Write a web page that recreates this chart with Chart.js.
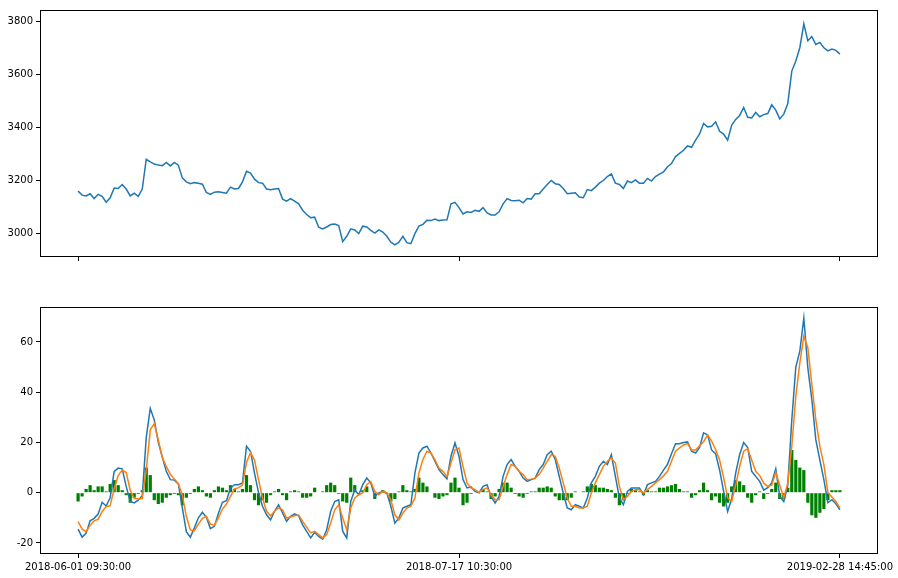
<!DOCTYPE html>
<html>
<head>
<meta charset="utf-8">
<script src="https://cdn.jsdelivr.net/npm/chart.js@4.4.1/dist/chart.umd.min.js"></script>
<style>
  html, body { margin: 0; padding: 0; background: #fff; }
  #wrap { position: relative; width: 898px; height: 578px; overflow: hidden; }
  .box { position: absolute; left: 0; width: 898px; }
</style>
</head>
<body>
<div id="wrap">
  <div class="box" style="top:0;height:280px"><canvas id="c1" width="898" height="280"></canvas></div>
  <div class="box" style="top:280px;height:298px"><canvas id="c2" width="898" height="298"></canvas></div>
</div>
<script>
// ---- data ----
const xTickIndex = [0, 95, 190];
const xTickLabels = ['2018-06-01 09:30:00', '2018-07-17 10:30:00', '2019-02-28 14:45:00'];
const priceTicks = [3000, 3200, 3400, 3600, 3800];
const macdTicks = [-20, 0, 20, 40, 60];

const price = [
  3160,3145,3142,3150,3132,3148,3140,3118,3135,3172,3170,3185,3168,3142,3152,3140,3168,3280,3270,3262,
  3258,3256,3268,3255,3268,3258,3210,3195,3188,3192,3190,3186,3155,3148,3156,3158,3155,3152,3175,3168,
  3170,
  3195,3235,3228,3205,3192,3190,3168,3165,3168,3170,3130,3122,3132,3122,3112,3088,3072,3060,3062,3024,
  3018,3025,3034,3036,3030,2970,2990,3018,3014,3000,3028,3025,3012,3002,3014,3006,2990,2968,2958,2968,
  2990,2966,2962,3000,3028,3035,3050,3049,3055,3049,3051,3052,
  3112,3118,3098,3074,3082,3080,3088,3084,3098,3078,3070,3070,3082,3112,3132,3125,3124,3126,3116,3132,
  3130,3150,3150,3168,3185,3200,3188,3185,3170,3150,3152,3154,3138,3135,3166,3162,3175,3190,3200,3215,
  3225,3190,3185,3170,3198,3192,3202,3190,3190,3208,3198,3215,3224,
  3232,3252,3264,3290,3302,3314,3330,3325,3352,3375,3415,3402,3404,3421,3385,3375,3352,3408,3430,3445,
  3475,3438,3436,3456,3440,3448,3452,3485,3465,3432,3450,3490,3612,3650,3700,3790,3726,3742,3712,3720,
  3700,3688,3695,3690,3676
];

const dif = [
  -14.5,-17.7,-16.2,-11.2,-10.2,-8.5,-3.8,-5.3,-2,8.5,9.8,9.5,2.5,-3.5,-4.1,-3,-1.2,22,33.5,29,
  20,14.2,8.5,5.2,5,3.5,-6,-15.5,-17.7,-14,-10,-7.8,-9.8,-14.3,-13.4,-8.2,-3.8,-3.2,1.8,3.2,
  3.2,
  3.9,18.5,16.5,7.8,0,-5.4,-8.8,-10.8,-7.4,-4.8,-8.1,-11.4,-9.4,-8.4,-9.2,-12.8,-15.4,-18,-15.8,-17.4,
  -18.5,-14.8,-7.4,-3.5,-2.8,-15.4,-18,-3.5,1.2,-0.8,3.2,5.8,3.9,-1.5,-0.1,0.5,-0.1,-5.4,-12.1,-10.1,
  -6.1,-5.4,-4.8,7.8,15.8,17.8,18.5,15.8,12.5,9.2,7.2,5.5,
  14.5,19.8,14.5,5.2,1.9,2.3,0.5,-0.1,2.5,3.2,-1.5,-4.1,-1.5,6.5,11.2,13.2,10.5,8.5,5.8,4.5,
  5.2,5.8,9.2,11.2,15.1,16.5,13.2,6.5,-0.1,-6.1,-6.8,-4.8,-5.4,-6.1,-2.1,3.9,6.5,10.5,12.5,11.2,
  15.1,6.5,-2.1,-4.8,0.5,1.9,1.9,1.9,-0.8,3.2,3.9,4.5,6.5,
  9,11.3,15.5,19.5,19.5,20,20.2,16.5,15.8,18,23.8,23,17,15.5,9,0.5,-7.5,-2.5,7.8,15.2,
  20,18,8.5,6.5,4.5,1,2,4,9.5,-1.5,-3.5,3,29,50,56.3,69.5,49.7,37,21,13,
  5.2,-4,-2.8,-4.4,-6.8
];

const dea = [
  -11.5,-14.5,-15.5,-13,-11.2,-10.6,-7.5,-5.6,-5.2,1.5,6.8,9,8,1,-2.2,-2.5,-2.3,9,25,27.5,
  21,14,10.5,7.3,5.4,3.6,-1,-9.5,-14.8,-15.2,-12.5,-10.2,-9.5,-12.5,-13,-10,-6.5,-4.5,-1.5,1.5,
  2,
  3,12,16,13,5.2,-2.1,-7.4,-9.2,-7.4,-6.1,-6.8,-10.1,-9.7,-9.2,-8.9,-11.4,-13.7,-16,-15.4,-16.7,
  -18,-16.7,-12.1,-6.8,-4.8,-10.1,-14.8,-6.1,-2.1,-0.8,-0.1,3.2,4.5,0.5,-0.8,0.5,-0.1,-2.8,-8.8,-10.8,
  -8.1,-6.1,-5.4,-2.1,7.8,13.2,16.5,15.8,13.2,9.8,8.5,6.4,
  11.8,17.1,17.8,10.5,3.9,1.9,1.2,0.1,1.2,1.9,-0.8,-2.8,-2.8,2.5,7.2,11.2,10.5,8.5,7.2,5.2,
  5.4,5.8,7.2,9.8,12.5,15.1,14.5,9.8,3.9,-2.1,-5.4,-5.4,-6.1,-6.1,-5.4,-0.1,3.9,7.2,10.5,12.5,
  13.8,11.8,2.5,-2.8,-1.5,0.5,1.2,1.2,-0.1,1.2,2.5,3.9,5.2,
  6.7,8.5,12.5,16.5,17.8,19,19.6,17,17,18.7,20.3,23,20.5,17.2,13,6,-2,-3.5,3,10.5,
  16.5,17.5,13,8.5,6.8,3.8,2.5,3,8,3,-2,3.9,18.5,38.4,51.7,62.3,57.7,43,29,18.5,
  11.2,0.1,-1.7,-3.5,-6.1
];

const hist = [
  -3.5,-1.5,1.5,3,1,2.5,2.5,0.5,3.5,5,3,1,-1,-4,-2,-0.5,1,10,7,-3,
  -4.5,-4,-2,-1,-0.5,-1,-5,-2,-0.5,1.5,2.5,1,-1.5,-2,1,2.5,2,1,3,1.5,
  0.5,
  1.5,7,3,-3,-5,-3,-4,-1,0.5,1.5,-1,-3,0.5,1,0.5,-2,-2,-1.5,2,0,
  0.5,3,4,3,-0.5,-3.5,-4,6,3,-0.5,1,2.5,0,-2.5,-0.5,1,-0.5,-3.5,-2.5,0.5,
  3,1,0.5,1.5,6,4,2.5,0,-2,-2.5,-1.5,-1,
  4,6,2,-5,-4,-0.5,0,0,1.5,0.5,-2.5,-1.5,1.5,4,4,2,-0.5,-1.5,-2,-0.5,
  0.5,0.5,2,2,2.5,2,-1.5,-3,-3,-3,-2,0.5,0,0.5,2.5,3.5,3,2,2,1.5,
  1,-2,-5,-3,-0.5,1.5,1,0.5,-1,1,0.5,0.5,2,
  2,2.5,3,3.5,1.5,0.5,0.5,-2,-1,1,4,1,-3,-1.5,-4,-5.5,-4,2.5,5,4.5,
  3,-2,-4,-1,0.5,-2.5,-0.5,1.5,4,-2.5,-2.5,2,17,13,10,9,-4,-9,-10,-8,
  -6.5,-3,1,1,1
];

// ---- chart setup ----
Chart.defaults.font.family = "'DejaVu Sans', sans-serif";
Chart.defaults.font.size = 10;
Chart.defaults.color = '#000';
Chart.defaults.animation = false;

const N = price.length;
const xmin = -0.05 * (N - 1), xmax = (N - 1) * 1.05;
const toXY = arr => arr.map((v, i) => ({ x: i, y: v }));

const frame = {
  id: 'frame',
  afterDraw(chart) {
    const a = chart.chartArea, ctx = chart.ctx;
    ctx.save();
    ctx.strokeStyle = '#000';
    ctx.lineWidth = 1;
    ctx.strokeRect(Math.round(a.left) + 0.5, Math.round(a.top) + 0.5,
                   Math.round(a.right - a.left) - 1, Math.round(a.bottom - a.top) - 1);
    ctx.restore();
  }
};

function xScale(showLabels, h) {
  return {
    type: 'linear', min: xmin, max: xmax, bounds: 'data', offset: false,
    grid: { display: true, offset: false, drawOnChartArea: false, drawTicks: true, tickLength: 4, color: '#000', lineWidth: 1 },
    border: { display: false },
    ticks: {
      autoSkip: false, maxRotation: 0, minRotation: 0, padding: 3,
      callback: (v, i) => showLabels ? xTickLabels[i] : ''
    },
    afterBuildTicks: s => { s.ticks = xTickIndex.map(v => ({ value: v })); },
    afterFit: s => { s.height = h; s.paddingLeft = 0; s.paddingRight = 0; }
  };
}
function yScale(min, max, ticks) {
  return {
    type: 'linear', min: min, max: max, bounds: 'data',
    grid: { display: true, drawOnChartArea: false, drawTicks: true, tickLength: 4, color: '#000', lineWidth: 1 },
    border: { display: false },
    ticks: { padding: 3, callback: v => String(v) },
    afterBuildTicks: s => { s.ticks = ticks.map(v => ({ value: v })); },
    afterFit: s => { s.width = 40; }
  };
}

new Chart(document.getElementById('c1'), {
  type: 'line',
  data: { datasets: [{
    data: toXY(price), borderColor: '#1f77b4', borderWidth: 1.5,
    pointRadius: 0, fill: false, tension: 0
  }]},
  options: {
    responsive: false, devicePixelRatio: 1,
    layout: { padding: { left: 0, right: 20, top: 10, bottom: 0 } },
    plugins: { legend: { display: false }, tooltip: { enabled: false } },
    scales: { x: xScale(false, 23), y: yScale(2912, 3842, priceTicks) }
  },
  plugins: [frame]
});

new Chart(document.getElementById('c2'), {
  type: 'bar',
  data: { datasets: [
    { type: 'line', data: toXY(dif), borderColor: '#1f77b4', borderWidth: 1.5, pointRadius: 0, fill: false, tension: 0, order: 2 },
    { type: 'line', data: toXY(dea), borderColor: '#ff7f0e', borderWidth: 1.5, pointRadius: 0, fill: false, tension: 0, order: 1 },
    { type: 'bar', data: toXY(hist), backgroundColor: '#008000', borderWidth: 0, barPercentage: 0.8, categoryPercentage: 1, order: 3 }
  ]},
  options: {
    responsive: false, devicePixelRatio: 1,
    layout: { padding: { left: 0, right: 20, top: 27, bottom: 0 } },
    plugins: { legend: { display: false }, tooltip: { enabled: false } },
    scales: { x: xScale(true, 24), y: yScale(-24.4, 73.9, macdTicks) }
  },
  plugins: [frame]
});
</script>
</body>
</html>
